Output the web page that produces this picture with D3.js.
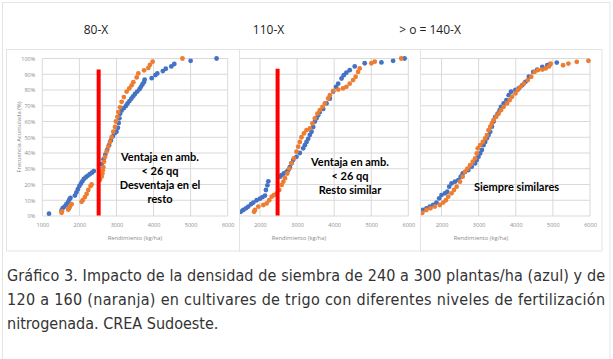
<!DOCTYPE html>
<html><head><meta charset="utf-8">
<script src="https://cdn.jsdelivr.net/npm/d3@7"></script>
<style>html,body{margin:0;padding:0;background:#fff;}svg{display:block;}</style>
</head><body>
<svg id="c" width="613" height="359"></svg>
<script>
// ---------- data ----------
const panelTitles = ["80-X", "110-X", "> o = 140-X"];
const xTicks = [1000, 2000, 3000, 4000, 5000, 6000];
const yTicks = [0, 10, 20, 30, 40, 50, 60, 70, 80, 90, 100];
const yTickLabels = ["0%", "10%", "20%", "30%", "40%", "50%", "60%", "70%", "80%", "90%", "100%"];
const xAxisTitle = "Rendimiento (kg/ha)";
const yAxisTitle = "Frecuencia Acumulada (%)";

const blue80 = [[1180,1.5],[1520,3.5],[1550,5],[1600,6],[1650,7.5],[1700,9],[1730,10.5],[1760,11.5],[1880,13],[1920,15],[1960,17],[2000,19],[2040,20.5],[2080,22],[2120,23.5],[2170,24.5],[2220,25.5],[2280,26.5],[2340,27.5],[2390,28.5],[2600,33],[2650,36],[2700,39],[2750,42],[2800,45],[2850,48],[2900,50.5],[2950,52.5],[3000,53.5],[3040,56],[3060,59],[3080,62],[3100,65],[3140,67],[3200,68.5],[3260,70],[3300,71.5],[3350,73],[3400,74.5],[3450,76],[3500,77.5],[3560,79],[3620,80.5],[3660,82],[3700,83.5],[3740,85],[3760,86.5],[3950,87.5],[4050,89.5],[4100,90.5],[4250,92],[4330,93.5],[4480,95],[4560,96.5],[5000,98.5],[5700,100]];
const orange80 = [[1520,2],[1530,3],[1700,4],[1720,5],[1745,6],[1790,7.5],[2060,9],[2090,10],[2150,12],[2195,14],[2240,16.5],[2300,19],[2330,20],[2555,23],[2600,25],[2620,27],[2630,29],[2645,31],[2665,34.5],[2690,37.5],[2735,41],[2780,44],[2825,47],[2870,50],[2915,53.5],[2960,56.5],[2985,60],[3025,63],[3050,66],[3095,69],[3140,72.5],[3200,75.5],[3275,79],[3345,81],[3410,83],[3455,85],[3545,88],[3590,90.5],[3745,92.5],[3860,94],[3905,96],[3975,98],[4780,100]];

const blue110 = [[1480,2.7],[1550,3.8],[1620,4.9],[1685,6],[1760,7.5],[1820,8.5],[1910,10],[2000,11],[2070,12],[2135,13],[2160,16.5],[2200,19.5],[2225,22],[2540,25],[2585,26],[2645,27],[2715,28],[2760,29],[2805,31],[2850,33.5],[2895,35.5],[2985,37.6],[3075,40],[3165,43],[3210,45],[3255,47],[3300,49],[3345,51.5],[3390,53.5],[3435,56.5],[3480,60],[3525,62],[3570,64],[3615,66],[3705,68],[3795,71.5],[3885,74.5],[3975,79],[4050,82],[4110,84],[4200,87.3],[4260,89.4],[4330,91],[4420,92.6],[4555,95],[4825,97],[5275,97.5],[5590,98.5],[5900,100]];
const orange110 = [[1840,2.7],[1865,3.8],[1955,6],[2090,7],[2180,8],[2250,10],[2315,12.3],[2375,13.3],[2450,14.4],[2520,16.5],[2585,19.7],[2630,21.8],[2675,24],[2735,27],[2790,30],[2850,33.5],[2915,36.6],[2985,40.8],[3030,44],[3075,47],[3120,50],[3185,52.4],[3255,54.5],[3345,55.6],[3415,58.8],[3480,62],[3550,65],[3615,67.2],[3685,69.3],[3750,71.5],[3840,74.6],[3885,76.7],[3975,79.5],[4110,80.3],[4240,81],[4330,82],[4420,84],[4510,86.3],[4580,88.4],[4645,91.5],[4690,93.7],[5005,97],[5095,98],[5810,100]];

const blue140 = [[1457,2.7],[1500,3.8],[1593,4.9],[1683,6],[1774,7],[1864,8.5],[1937,11.2],[2000,13.3],[2090,14.4],[2154,15.4],[2208,18.6],[2271,20.7],[2362,21.8],[2452,22.8],[2516,25],[2570,27],[2633,28],[2724,29.2],[2814,31.3],[2905,33.4],[2950,35.5],[2995,37.6],[3041,39.7],[3086,41.9],[3131,45],[3176,47],[3222,49.3],[3267,51.4],[3312,53.5],[3357,56.7],[3403,60],[3448,63],[3511,65],[3566,67.2],[3602,69.3],[3674,71.5],[3747,73.6],[3810,76.7],[3873,78.9],[3991,80],[4081,81],[4172,83],[4262,85.2],[4353,88.4],[4470,91.5],[4579,93],[4715,94.7],[4851,95.8],[4925,96.4],[5105,97.4]];
const orange140 = [[1484,2],[1593,3.8],[1701,4.9],[1819,6],[1955,7],[2045,8.5],[2118,10],[2181,12.3],[2271,14.4],[2335,16.5],[2407,18.6],[2498,21.8],[2570,25],[2633,28],[2697,30],[2769,32.3],[2842,34.5],[2905,36.6],[2950,39.7],[2977,43],[3041,45],[3113,47],[3176,49.3],[3222,51.4],[3267,54.5],[3312,56.7],[3357,58.8],[3403,61],[3475,63],[3538,65],[3602,67.2],[3674,69.3],[3765,71.5],[3837,73.6],[3900,75.7],[3991,77.8],[4054,80],[4127,82],[4217,84],[4326,86.3],[4416,88.4],[4507,91.5],[4597,92.6],[4715,93],[4805,93.7],[4896,95],[4941,96.8],[5275,95.7],[5418,96.8],[5644,97.9],[5957,98.5]];

const redLineX = [2520, 2475, null];
const redLineTop = [93, 93.5, null];
const notes = [
  ["Ventaja en amb.", "< 26 qq", "Desventaja en el", "resto"],
  ["Ventaja en amb.", "< 26 qq", "Resto similar"],
  ["Siempre similares"]
];
const caption = [
  "Gráfico 3. Impacto de la densidad de siembra de 240 a 300 plantas/ha (azul) y de",
  "120 a 160 (naranja) en cultivares de trigo con diferentes niveles de fertilización",
  "nitrogenada. CREA Sudoeste."
];

const seriesBlue = [blue80, blue110, blue140];
const seriesOrange = [orange80, orange110, orange140];

// ---------- layout ----------
const svg = d3.select("#c");
const BLUE = "#4472C4", ORANGE = "#ED7D31", GRID = "#d9d9d9", FRAME = "#e4e4e4";

svg.append("rect").attr("x", 2.5).attr("y", 2.5).attr("width", 607.5).attr("height", 380)
  .attr("fill", "none").attr("stroke", FRAME);

const layout = [
  {cardL: 6.5, cardR: 239.5, r0: 42.3, r1: 227.7, clipL: 42.3, titleX: 96, axX: 135, noteX: 160, noteY: [157, 171, 185, 198.5]},
  {cardL: 239.5, cardR: 420.5, r0: 222.9, r1: 408.3, clipL: 240, titleX: 268.5, axX: 299, noteX: 350, noteY: [162, 176, 190]},
  {cardL: 420.5, cardR: 602, r0: 404.4, r1: 590, clipL: 421, titleX: 430, axX: 481, noteX: 516.5, noteY: [186.5]}
];
const cardTop = 49.5, cardBot = 251;
const y = d3.scaleLinear().domain([0, 100]).range([216, 58.5]);

layout.forEach((L) => {
  svg.append("rect").attr("x", L.cardL).attr("y", cardTop).attr("width", L.cardR - L.cardL)
    .attr("height", cardBot - cardTop).attr("fill", "#fff").attr("stroke", FRAME);
});

layout.forEach((L, i) => {
  const g = svg.append("g");
  const x = d3.scaleLinear().domain([1000, 6000]).range([L.r0, L.r1]);
  const cid = "clip" + i;
  svg.append("clipPath").attr("id", cid).append("rect")
    .attr("x", L.clipL).attr("y", 50).attr("width", L.r1 - L.clipL + 4).attr("height", 170);

  svg.append("text").attr("x", L.titleX).attr("y", 33.5).attr("text-anchor", "middle")
    .attr("font-family", "Open Sans, sans-serif").attr("font-size", 12).attr("fill", "#222")
    .text(panelTitles[i]);

  const visTicks = xTicks.filter(t => x(t) >= L.clipL - 0.5);
  g.append("g").selectAll("line").data(yTicks).join("line")
    .attr("x1", L.clipL).attr("x2", L.r1).attr("y1", d => y(d)).attr("y2", d => y(d))
    .attr("stroke", GRID).attr("stroke-width", 1);
  g.append("g").selectAll("line").data(visTicks).join("line")
    .attr("x1", d => x(d)).attr("x2", d => x(d)).attr("y1", y(0)).attr("y2", y(100))
    .attr("stroke", GRID).attr("stroke-width", 1);

  const xa = g.append("g").attr("transform", `translate(0,${y(0) + 4})`)
    .call(d3.axisBottom(x).tickValues(visTicks).tickSize(0).tickFormat(d3.format("d")));
  xa.select(".domain").remove();
  xa.selectAll("text").attr("font-family", "Open Sans, sans-serif").attr("font-size", 5.5).attr("fill", "#8a8a8a").attr("dy", "0.71em");

  svg.append("text").attr("x", L.axX).attr("y", 239.5)
    .attr("text-anchor", "middle").attr("font-family", "Open Sans, sans-serif").attr("font-size", 5.8)
    .attr("fill", "#8a8a8a").text(xAxisTitle);

  if (i === 0) {
    const ya = g.append("g").attr("transform", `translate(${L.r0 - 4},0)`)
      .call(d3.axisLeft(y).tickValues(yTicks).tickSize(0).tickFormat((d, k) => yTickLabels[k]));
    ya.select(".domain").remove();
    ya.selectAll("text").attr("font-family", "Open Sans, sans-serif").attr("font-size", 5.5).attr("fill", "#8a8a8a");
    svg.append("text").attr("transform", `translate(21,137) rotate(-90)`).attr("text-anchor", "middle")
      .attr("font-family", "Open Sans, sans-serif").attr("font-size", 5.8).attr("fill", "#8a8a8a").text(yAxisTitle);
  }

  const dots = g.append("g").attr("clip-path", `url(#${cid})`);
  dots.selectAll("circle.b").data(seriesBlue[i]).join("circle").attr("class", "b")
    .attr("cx", d => x(d[0])).attr("cy", d => y(d[1])).attr("r", 2.4).attr("fill", BLUE);
  dots.selectAll("circle.o").data(seriesOrange[i]).join("circle").attr("class", "o")
    .attr("cx", d => x(d[0])).attr("cy", d => y(d[1])).attr("r", 2.4).attr("fill", ORANGE);

  if (redLineX[i] !== null) {
    g.append("line").attr("x1", x(redLineX[i])).attr("x2", x(redLineX[i]))
      .attr("y1", y(redLineTop[i])).attr("y2", y(0) - 0.5)
      .attr("stroke", "#FF0000").attr("stroke-width", 4);
  }

  notes[i].forEach((t, k) => {
    svg.append("text").attr("x", L.noteX).attr("y", L.noteY[k] + 4).attr("text-anchor", "middle")
      .attr("font-family", "Lato, sans-serif").attr("font-weight", "bold").attr("font-size", 11)
      .attr("fill", "#000").text(t);
  });
});

const capY = [281, 305, 329];
caption.forEach((t, k) => {
  const tx = svg.append("text").attr("x", 7).attr("y", capY[k])
    .attr("font-family", "Liberation Sans Narrow, DejaVu Sans Condensed, sans-serif").attr("font-size", 16)
    .attr("fill", "#333").text(t);
  if (k < 2) tx.attr("textLength", 598).attr("lengthAdjust", "spacing");
});
</script>
</body></html>
